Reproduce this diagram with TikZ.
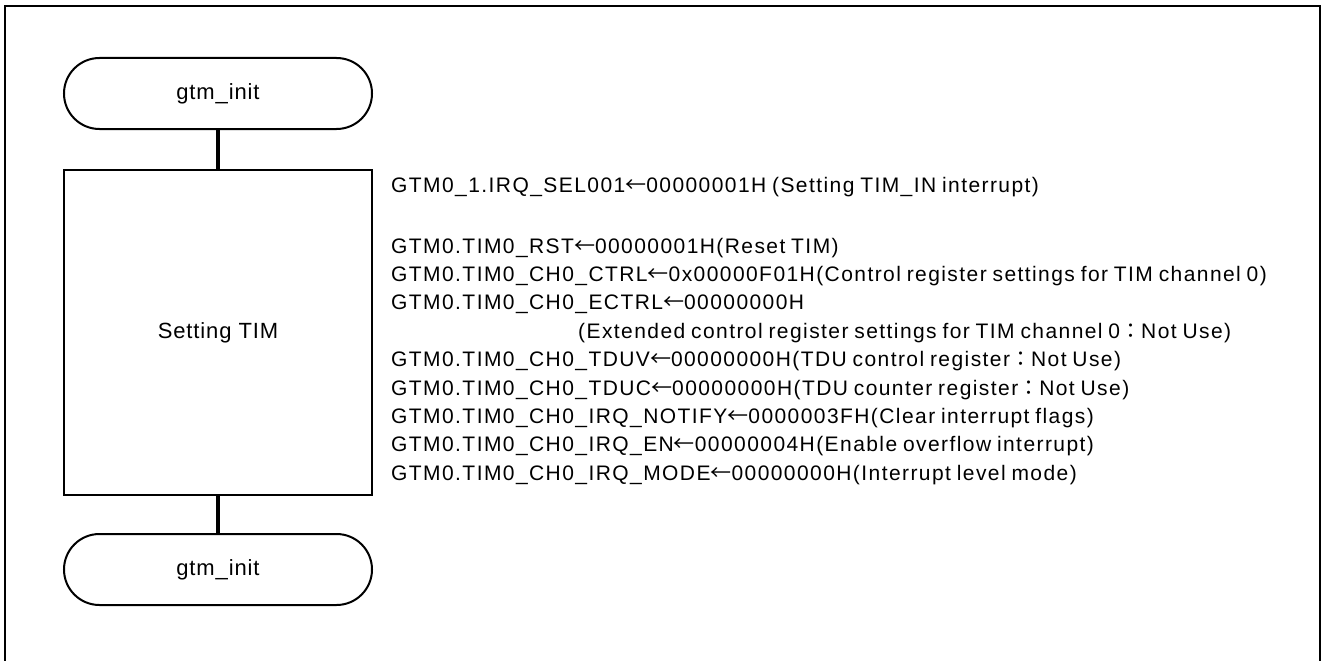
\documentclass[tikz,border=0pt]{standalone}
\usepackage{fontspec}
\setmainfont{Liberation Sans}
\newfontfamily\regfont[LetterSpace=6.8,WordSpace=0.8]{Liberation Sans}
\newfontfamily\labelfont[LetterSpace=4]{Liberation Sans}
\newfontfamily\cjk{Noto Sans CJK JP}
\newcommand{\fwcolon}{{\cjk ：}}
\newcommand{\setto}{{\cjk ←}}
\usetikzlibrary{shapes.misc,positioning}

\tikzset{
terminal/.style={draw, line width=2pt, rounded rectangle,
  minimum width=308pt, minimum height=71pt, inner sep=0pt,
  font=\labelfont\fontsize{22}{26}\selectfont},
process/.style={draw, line width=2pt, rectangle,
  minimum width=308pt, minimum height=325pt, inner sep=0pt,
  font=\labelfont\fontsize{22}{26}\selectfont},
flowline/.style={line width=4pt},
regline/.style={anchor=base west, inner sep=0pt,
  font=\regfont\fontsize{21}{24}\selectfont}
}

\begin{document}
\begin{tikzpicture}[x=1pt, y=-1pt]

\useasboundingbox (0,0) rectangle (1322,661);

% Outer frame (open at the bottom)
\draw[line width=2.5pt] (5,672) -- (5,6) -- (1320,6) -- (1320,672);

% ================= FLOWCHART =================
\node[terminal] (start) at (218,93.5) {gtm\_init};
\node[process] (settim) at (218,332.5) {Setting TIM};
\node[terminal] (stop) at (218,569.5) {gtm\_init};

\draw[flowline] (start.south) -- (settim.north);
\draw[flowline] (settim.south) -- (stop.north);

% ================= REGISTER SETTINGS =================
\node[regline] (sel) at (391,192)
{GTM0\_1.IRQ\_SEL001\setto00000001H (Setting TIM\_IN interrupt)};

\node[regline] (rst) at (391,253)
{GTM0.TIM0\_RST\setto00000001H(Reset TIM)};
\node[regline] (ctrl) at (391,281.4)
{GTM0.TIM0\_CH0\_CTRL\setto0x00000F01H(Control register settings for TIM channel 0)};
\node[regline] (ectrl) at (391,309.8)
{GTM0.TIM0\_CH0\_ECTRL\setto00000000H};
\node[regline] (ectrlnote) at (578,338.2)
{(Extended control register settings for TIM channel 0\fwcolon Not Use)};
\node[regline] (tduv) at (391,366.6)
{GTM0.TIM0\_CH0\_TDUV\setto00000000H(TDU control register\fwcolon Not Use)};
\node[regline] (tduc) at (391,395)
{GTM0.TIM0\_CH0\_TDUC\setto00000000H(TDU counter register\fwcolon Not Use)};
\node[regline] (notify) at (391,423.4)
{GTM0.TIM0\_CH0\_IRQ\_NOTIFY\setto0000003FH(Clear interrupt flags)};
\node[regline] (irqen) at (391,451.8)
{GTM0.TIM0\_CH0\_IRQ\_EN\setto00000004H(Enable overflow interrupt)};
\node[regline] (irqmode) at (391,480.2)
{GTM0.TIM0\_CH0\_IRQ\_MODE\setto00000000H(Interrupt level mode)};

\end{tikzpicture}
\end{document}
